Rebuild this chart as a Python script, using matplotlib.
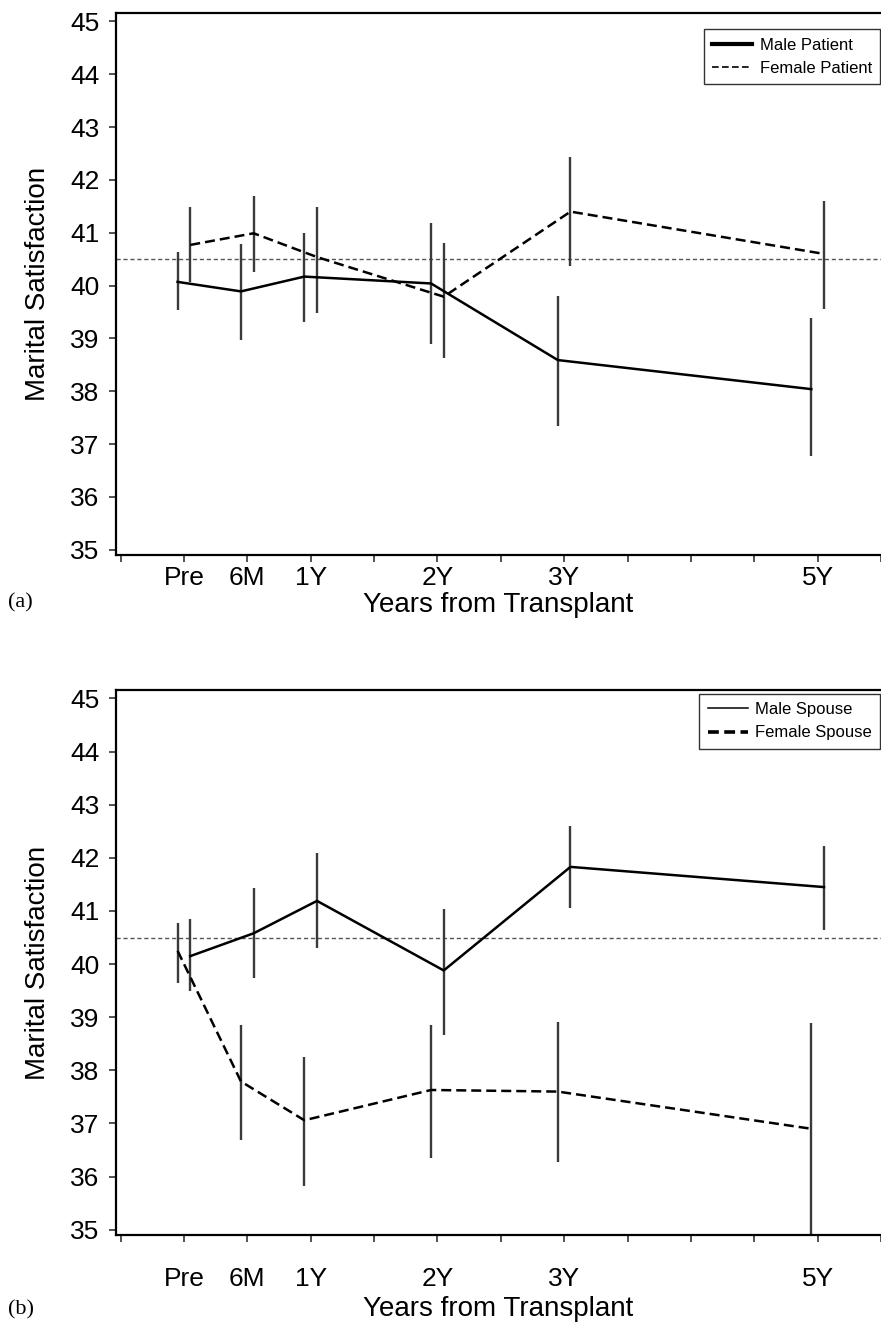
import numpy as np
import matplotlib
matplotlib.use("Agg")
from matplotlib import pyplot as plt
from matplotlib.lines import Line2D

plt.rcParams['font.family'] = ['Liberation Sans', 'DejaVu Sans']

# time points (years from transplant)
years = [0, 0.5, 1, 2, 3, 5]
tick_labels = ["Pre", "6M", "1Y", "2Y", "3Y", "5Y"]
ref_level = 40.5

# (a) patients
male_pat = [40.07, 39.89, 40.17, 40.04, 38.59, 38.04]
male_pat_hi = [40.64, 40.78, 41.00, 41.18, 39.81, 39.38]
male_pat_lo = [39.54, 38.97, 39.32, 38.89, 37.34, 36.78]
fem_pat = [40.77, 40.99, 40.54, 39.79, 41.40, 40.60]
fem_pat_hi = [41.48, 41.70, 41.49, 40.81, 42.44, 41.60]
fem_pat_lo = [40.07, 40.25, 39.49, 38.62, 40.38, 39.55]

# (b) spouses
male_sp = [40.15, 40.58, 41.19, 39.88, 41.83, 41.45]
male_sp_hi = [40.85, 41.43, 42.09, 41.04, 42.60, 42.22]
male_sp_lo = [39.49, 39.73, 40.30, 38.66, 41.05, 40.65]
fem_sp = [40.25, 37.79, 37.06, 37.63, 37.60, 36.90]
fem_sp_hi = [40.78, 38.86, 38.26, 38.86, 38.91, 38.90]
fem_sp_lo = [39.65, 36.68, 35.82, 36.35, 36.28, 34.90]

W, H = 881, 1332
fig = plt.figure(figsize=(W / 100, H / 100), dpi=100)

dash = (0, (4, 2))
dot = (0, (3, 2))
bar_col = "#3a3a3a"


def panel(ax, m, mhi, mlo, f, fhi, flo, m_off, handles, labels, xpad, lpad, leg_y):
    x = np.array(years)
    xm = x + m_off
    xf = x - m_off
    ax.axhline(ref_level, color="#555555", lw=1.0, ls=dot, zorder=1)
    ax.vlines(xm, mlo, mhi, color=bar_col, lw=1.7, zorder=2)
    ax.vlines(xf, flo, fhi, color=bar_col, lw=1.7, zorder=2)
    ax.plot(xm, m, color="black", lw=1.8, zorder=3)
    ax.plot(xf, f, color="black", lw=1.8, ls=dash, zorder=3)

    ax.set_xlim(-0.536, 5.497)
    ax.set_ylim(34.9, 45.16)
    ax.set_yticks(range(35, 46))
    ax.set_xticks(years)
    ax.set_xticklabels(tick_labels)
    ax.set_xticks([-0.5, 1.5, 2.5, 3.5, 4, 4.5, 5.5], minor=True)
    ax.tick_params(axis="both", which="both", direction="out", length=5,
                   width=1.2, labelsize=19, color="#333333")
    ax.tick_params(axis="x", pad=xpad)
    ax.tick_params(axis="y", pad=7)
    for s in ["left", "bottom", "top"]:
        ax.spines[s].set_linewidth(1.6)
    ax.spines["right"].set_visible(False)
    ax.set_xlabel("Years from Transplant", fontsize=20, labelpad=lpad)
    ax.set_ylabel("Marital Satisfaction", fontsize=20, labelpad=14)
    leg = ax.legend(handles, labels, loc="upper right", bbox_to_anchor=(0.999, leg_y),
                    borderaxespad=0, fontsize=12, frameon=True, fancybox=False,
                    handlelength=2.4, handletextpad=0.45, borderpad=0.5,
                    labelspacing=0.5)
    leg.get_frame().set_edgecolor("black")
    leg.get_frame().set_linewidth(1.0)


ax1 = fig.add_axes([116 / W, 1 - 555 / H, (W - 116) / W, 542 / H])
h1 = [Line2D([], [], color="black", lw=3),
      Line2D([], [], color="black", lw=1.2, ls=(0, (4, 2)))]
panel(ax1, male_pat, male_pat_hi, male_pat_lo, fem_pat, fem_pat_hi, fem_pat_lo,
      -0.05, h1, ["Male Patient", "Female Patient"], 3, 1, 0.97)

ax2 = fig.add_axes([116 / W, 1 - 1235 / H, (W - 116) / W, 545 / H])
h2 = [Line2D([], [], color="black", lw=1.1),
      Line2D([], [], color="black", lw=2.6, ls=(0, (3, 1.5)))]
panel(ax2, male_sp, male_sp_hi, male_sp_lo, fem_sp, fem_sp_hi, fem_sp_lo,
      0.05, h2, ["Male Spouse", "Female Spouse"], 18, 4, 0.993)

fig.text(8 / W, 1 - 603 / H, "(a)", fontsize=16, family=["Liberation Serif"], va="center")
fig.text(8 / W, 1 - 1310 / H, "(b)", fontsize=16, family=["Liberation Serif"], va="center")

fig.savefig("out.png", dpi=100)
